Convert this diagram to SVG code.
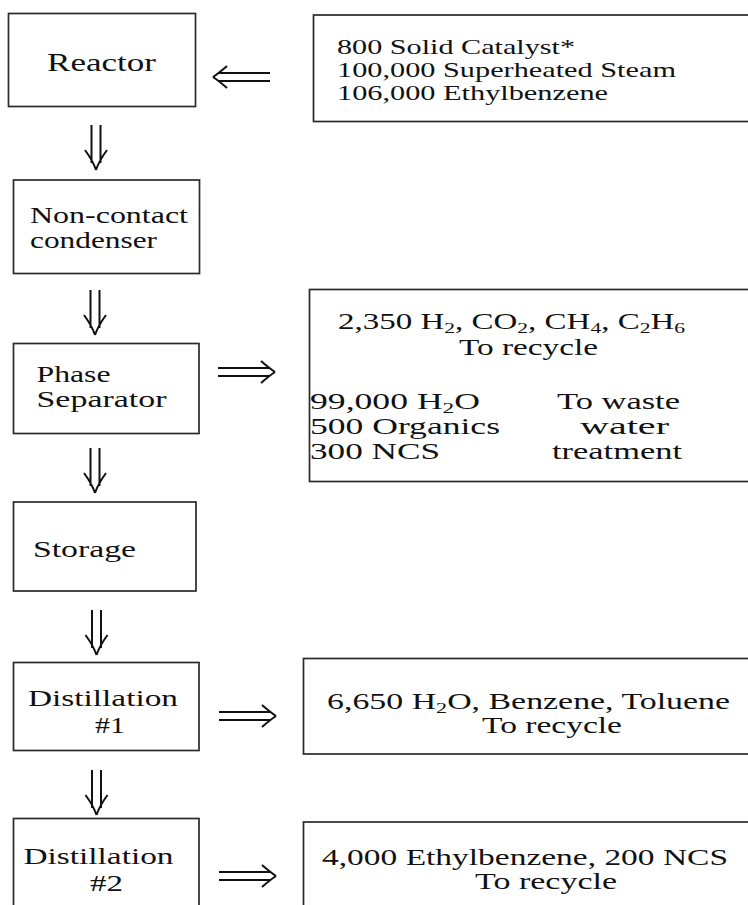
<svg xmlns="http://www.w3.org/2000/svg" xmlns:xlink="http://www.w3.org/1999/xlink" width="748" height="905" viewBox="0 0 748 905">
<style>
.box{fill:#fff;stroke:#2a2a2a;stroke-width:1.7}
.t{font-family:"Liberation Serif","Times New Roman",serif;font-size:23px;fill:#111}
.tb{font-size:25px}
.tm{font-size:24px}
.ts{font-size:22px}
.arr{fill:none;stroke:#111;stroke-width:2}
</style>
<defs>
<g id="ad"><path d="M-4.5,-45 V-7 M4.5,-45 V-7 M-11,-20 Q-3,-9 0,0 M11,-20 Q3,-9 0,0"/></g>
<g id="ar"><path d="M-57,-4 H-6 M-57,4 H-6 M-14,-11 Q-6,-4 0,0 M-14,11 Q-6,4 0,0"/></g>
</defs>
<rect width="748" height="905" fill="#fff"/>

<g id="reactor">
<rect class="box" x="8.5" y="13.5" width="187" height="93"/>
<text class="t tb" x="47" y="71" textLength="109" lengthAdjust="spacingAndGlyphs">Reactor</text>
</g>
<g id="feed">
<rect class="box" x="313.5" y="15" width="460" height="106.5"/>
<text class="t ts" x="337" y="53.5" textLength="238" lengthAdjust="spacingAndGlyphs">800 Solid Catalyst*</text>
<text class="t ts" x="337" y="76.5" textLength="339" lengthAdjust="spacingAndGlyphs">100,000 Superheated Steam</text>
<text class="t ts" x="337" y="99.5" textLength="271" lengthAdjust="spacingAndGlyphs">106,000 Ethylbenzene</text>
</g>
<g id="condenser">
<rect class="box" x="13.5" y="180" width="186" height="93.5"/>
<text class="t" x="30" y="223" textLength="158" lengthAdjust="spacingAndGlyphs">Non-contact</text>
<text class="t" x="30" y="248" textLength="127" lengthAdjust="spacingAndGlyphs">condenser</text>
</g>
<g id="separator">
<rect class="box" x="13.5" y="343.5" width="185.5" height="90"/>
<text class="t" x="36.5" y="381.5" textLength="74" lengthAdjust="spacingAndGlyphs">Phase</text>
<text class="t" x="36.5" y="406.5" textLength="130" lengthAdjust="spacingAndGlyphs">Separator</text>
</g>
<g id="separator-out">
<rect class="box" x="309.5" y="289.5" width="460" height="192"/>
<text class="t" x="338" y="329" textLength="347" lengthAdjust="spacingAndGlyphs">2,350 H<tspan dy="4" font-size="15">2</tspan><tspan dy="-4">, CO</tspan><tspan dy="4" font-size="15">2</tspan><tspan dy="-4">, CH</tspan><tspan dy="4" font-size="15">4</tspan><tspan dy="-4">, C</tspan><tspan dy="4" font-size="15">2</tspan><tspan dy="-4">H</tspan><tspan dy="4" font-size="15">6</tspan></text>
<text class="t" x="459" y="355" textLength="139" lengthAdjust="spacingAndGlyphs">To recycle</text>
<text class="t" x="310" y="409" textLength="170" lengthAdjust="spacingAndGlyphs">99,000 H<tspan dy="4" font-size="15">2</tspan><tspan dy="-4">O</tspan></text>
<text class="t" x="310" y="434" textLength="190" lengthAdjust="spacingAndGlyphs">500 Organics</text>
<text class="t" x="310" y="459" textLength="130" lengthAdjust="spacingAndGlyphs">300 NCS</text>
<text class="t" x="557" y="409" textLength="123" lengthAdjust="spacingAndGlyphs">To waste</text>
<text class="t" x="580" y="434" textLength="89" lengthAdjust="spacingAndGlyphs">water</text>
<text class="t" x="552" y="459" textLength="130" lengthAdjust="spacingAndGlyphs">treatment</text>
</g>
<g id="storage">
<rect class="box" x="13.5" y="502" width="182.5" height="89"/>
<text class="t tm" x="33" y="557" textLength="103" lengthAdjust="spacingAndGlyphs">Storage</text>
</g>
<g id="distillation1">
<rect class="box" x="13.5" y="662.5" width="185.5" height="88"/>
<text class="t tm" x="28" y="706" textLength="150" lengthAdjust="spacingAndGlyphs">Distillation</text>
<text class="t tm" x="95" y="733" textLength="30" lengthAdjust="spacingAndGlyphs">#1</text>
</g>
<g id="distillation1-out">
<rect class="box" x="303.5" y="658.5" width="460" height="95.5"/>
<text class="t" x="327" y="708.5" textLength="403" lengthAdjust="spacingAndGlyphs">6,650 H<tspan dy="4" font-size="15">2</tspan><tspan dy="-4">O, Benzene, Toluene</tspan></text>
<text class="t" x="482" y="733" textLength="140" lengthAdjust="spacingAndGlyphs">To recycle</text>
</g>
<g id="distillation2">
<rect class="box" x="13.5" y="818.5" width="185.5" height="110"/>
<text class="t tm" x="23.5" y="864" textLength="150" lengthAdjust="spacingAndGlyphs">Distillation</text>
<text class="t tm" x="90" y="891" textLength="33" lengthAdjust="spacingAndGlyphs">#2</text>
</g>
<g id="distillation2-out">
<rect class="box" x="303.5" y="822" width="460" height="110"/>
<text class="t" x="322" y="865" textLength="406" lengthAdjust="spacingAndGlyphs">4,000 Ethylbenzene, 200 NCS</text>
<text class="t" x="475" y="889" textLength="142" lengthAdjust="spacingAndGlyphs">To recycle</text>
</g>

<g id="connectors" class="arr">
<use xlink:href="#ar" transform="translate(213,77) rotate(180)"/>
<use xlink:href="#ad" transform="translate(96,170)"/>
<use xlink:href="#ad" transform="translate(95,335)"/>
<use xlink:href="#ad" transform="translate(95,493)"/>
<use xlink:href="#ad" transform="translate(96.5,655)"/>
<use xlink:href="#ad" transform="translate(96.5,815)"/>
<use xlink:href="#ar" transform="translate(275,372)"/>
<use xlink:href="#ar" transform="translate(276,716)"/>
<use xlink:href="#ar" transform="translate(276,876)"/>
</g>
</svg>
